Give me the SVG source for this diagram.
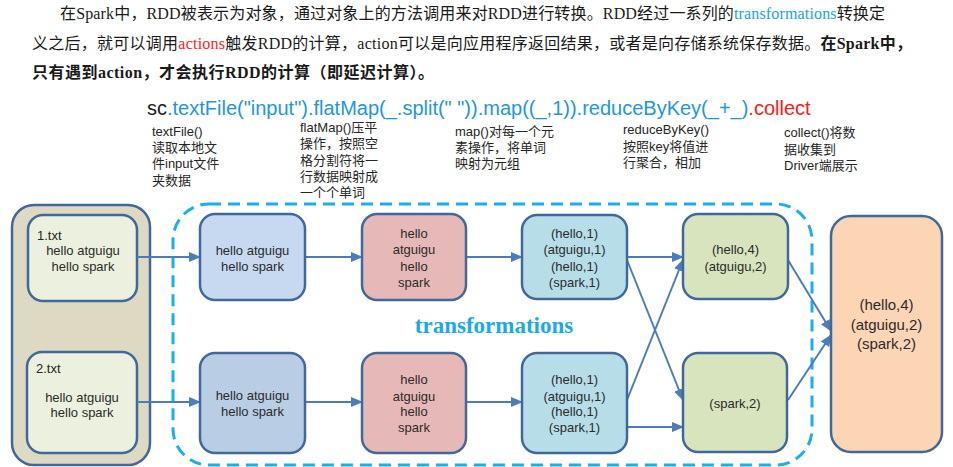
<svg xmlns="http://www.w3.org/2000/svg" width="953" height="467" viewBox="0 0 953 467">
<defs>
<style>
.para{font-family:"Liberation Serif","Noto Sans CJK SC",serif;font-size:16px;fill:#1a1a1a}
.bold{font-weight:bold}
.code{font-family:"Liberation Sans","Noto Sans CJK SC",sans-serif;font-size:20px}
.note{font-family:"Liberation Sans","Noto Sans CJK SC",sans-serif;font-size:13px;fill:#262626}
.nt{font-family:"Liberation Sans","Noto Sans CJK SC",sans-serif;font-size:13px;fill:#2b2b2b;text-anchor:middle}
.big{font-size:15px}
.box{stroke:#41689b;stroke-width:2.5}
.conn{stroke:#4a7ebb;stroke-width:2;fill:none;marker-end:url(#ah)}
</style>
<marker id="ah" markerUnits="userSpaceOnUse" markerWidth="12" markerHeight="10" refX="11" refY="5" orient="auto">
<path d="M0,0 L12,5 L0,10 Z" fill="#4a7ebb"/>
</marker>
</defs>
<rect width="953" height="467" fill="#ffffff"/>

<g id="paragraph">
<text class="para" x="60" y="19" textLength="825" lengthAdjust="spacing">在Spark中，RDD被表示为对象，通过对象上的方法调用来对RDD进行转换。RDD经过一系列的<tspan fill="#1aa3e0">transformations</tspan>转换定</text>
<text class="para" x="32" y="49" textLength="880" lengthAdjust="spacing">义之后，就可以调用<tspan fill="#ff1a1a">actions</tspan>触发RDD的计算，action可以是向应用程序返回结果，或者是向存储系统保存数据。<tspan class="bold">在Spark中，</tspan></text>
<text class="para bold" x="32" y="78" textLength="402" lengthAdjust="spacing">只有遇到action，才会执行RDD的计算（即延迟计算）。</text>
</g>

<g id="code">
<text class="code" x="147" y="115"><tspan fill="#1a1a1a">sc</tspan><tspan fill="#1e96e0">.textFile("input").flatMap(_.split(" ")).map((_,1)).reduceByKey(_+_)</tspan><tspan fill="#ff1a1a">.collect</tspan></text>
</g>

<g id="notes">
<text class="note" x="152" y="136">textFile()</text>
<text class="note" x="152" y="152">读取本地文</text>
<text class="note" x="152" y="168">件input文件</text>
<text class="note" x="152" y="185">夹数据</text>
<text class="note" x="300" y="132">flatMap()压平</text>
<text class="note" x="300" y="148">操作，按照空</text>
<text class="note" x="300" y="165">格分割符将一</text>
<text class="note" x="300" y="181">行数据映射成</text>
<text class="note" x="300" y="197">一个个单词</text>
<text class="note" x="455" y="136">map()对每一个元</text>
<text class="note" x="455" y="152">素操作，将单词</text>
<text class="note" x="455" y="168">映射为元组</text>
<text class="note" x="623" y="134">reduceByKey()</text>
<text class="note" x="623" y="151">按照key将值进</text>
<text class="note" x="623" y="167">行聚合，相加</text>
<text class="note" x="784" y="137">collect()将数</text>
<text class="note" x="784" y="154">据收集到</text>
<text class="note" x="784" y="170">Driver端展示</text>
</g>

<g id="transformations">
<rect x="173" y="204" width="639" height="261" rx="36" fill="none" stroke="#19aef0" stroke-width="3" stroke-dasharray="12 7"/>
<text x="494" y="333" text-anchor="middle" font-family="'Liberation Serif',serif" font-weight="bold" font-size="23" fill="#1aa9ea">transformations</text>
</g>

<g id="input">
<rect class="box" x="12" y="205" width="138" height="260" rx="22" fill="#ddd9c3"/>
</g>
<g id="file1">
<rect class="box" x="28" y="215" width="109" height="86" rx="15" fill="#ebf1de"/>
<text class="note" x="37" y="240">1.txt</text>
<text class="nt" x="83" y="255">hello atguigu</text>
<text class="nt" x="83" y="271">hello spark</text>
</g>
<g id="file2">
<rect class="box" x="27" y="352" width="110" height="101" rx="15" fill="#ebf1de"/>
<text class="note" x="36" y="373">2.txt</text>
<text class="nt" x="82" y="402">hello atguigu</text>
<text class="nt" x="82" y="417">hello spark</text>
</g>

<g id="connectors">
<line class="conn" x1="137" y1="257" x2="200" y2="257"/>
<line class="conn" x1="137" y1="402" x2="200" y2="402"/>
<line class="conn" x1="305" y1="257" x2="362" y2="257"/>
<line class="conn" x1="305" y1="402" x2="362" y2="402"/>
<line class="conn" x1="466" y1="257" x2="522" y2="257"/>
<line class="conn" x1="466" y1="402" x2="522" y2="402"/>
<line class="conn" x1="627" y1="257" x2="683" y2="257"/>
<line class="conn" x1="627" y1="260" x2="683" y2="400"/>
<line class="conn" x1="627" y1="400" x2="683" y2="260"/>
<line class="conn" x1="627" y1="427" x2="683" y2="427"/>
<line class="conn" x1="788" y1="260" x2="831" y2="331"/>
<line class="conn" x1="788" y1="400" x2="831" y2="335"/>
</g>

<g id="lines1">
<rect class="box" x="200" y="214" width="105" height="86" rx="15" fill="#c6d9f1"/>
<text class="nt" x="252.5" y="255">hello atguigu</text>
<text class="nt" x="252.5" y="271">hello spark</text>
</g>
<g id="lines2">
<rect class="box" x="200" y="353" width="105" height="100" rx="15" fill="#b9cde5"/>
<text class="nt" x="252.5" y="400">hello atguigu</text>
<text class="nt" x="252.5" y="416">hello spark</text>
</g>
<g id="words1">
<rect class="box" x="362" y="214" width="104" height="86" rx="15" fill="#e6b9b8"/>
<text class="nt" x="414" y="238">hello</text>
<text class="nt" x="414" y="254">atguigu</text>
<text class="nt" x="414" y="271">hello</text>
<text class="nt" x="414" y="287">spark</text>
</g>
<g id="words2">
<rect class="box" x="362" y="353" width="104" height="100" rx="15" fill="#e6b9b8"/>
<text class="nt" x="414" y="384">hello</text>
<text class="nt" x="414" y="401">atguigu</text>
<text class="nt" x="414" y="416">hello</text>
<text class="nt" x="414" y="432">spark</text>
</g>
<g id="pairs1">
<rect class="box" x="522" y="215" width="105" height="84" rx="15" fill="#b7dee8"/>
<text class="nt" x="574.5" y="238">(hello,1)</text>
<text class="nt" x="574.5" y="254">(atguigu,1)</text>
<text class="nt" x="574.5" y="271">(hello,1)</text>
<text class="nt" x="574.5" y="287">(spark,1)</text>
</g>
<g id="pairs2">
<rect class="box" x="522" y="353" width="105" height="100" rx="15" fill="#b7dee8"/>
<text class="nt" x="574.5" y="384">(hello,1)</text>
<text class="nt" x="574.5" y="401">(atguigu,1)</text>
<text class="nt" x="574.5" y="416">(hello,1)</text>
<text class="nt" x="574.5" y="432">(spark,1)</text>
</g>
<g id="reduce1">
<rect class="box" x="683" y="214" width="105" height="85" rx="15" fill="#d7e4bd"/>
<text class="nt" x="735.5" y="254">(hello,4)</text>
<text class="nt" x="735.5" y="271">(atguigu,2)</text>
</g>
<g id="reduce2">
<rect class="box" x="683" y="353" width="104" height="99" rx="15" fill="#d7e4bd"/>
<text class="nt" x="735" y="408">(spark,2)</text>
</g>
<g id="result">
<rect class="box" x="831" y="216" width="111" height="236" rx="20" fill="#fcd5b5"/>
<text class="nt big" x="886.5" y="310">(hello,4)</text>
<text class="nt big" x="886.5" y="330">(atguigu,2)</text>
<text class="nt big" x="886.5" y="349">(spark,2)</text>
</g>
</svg>
